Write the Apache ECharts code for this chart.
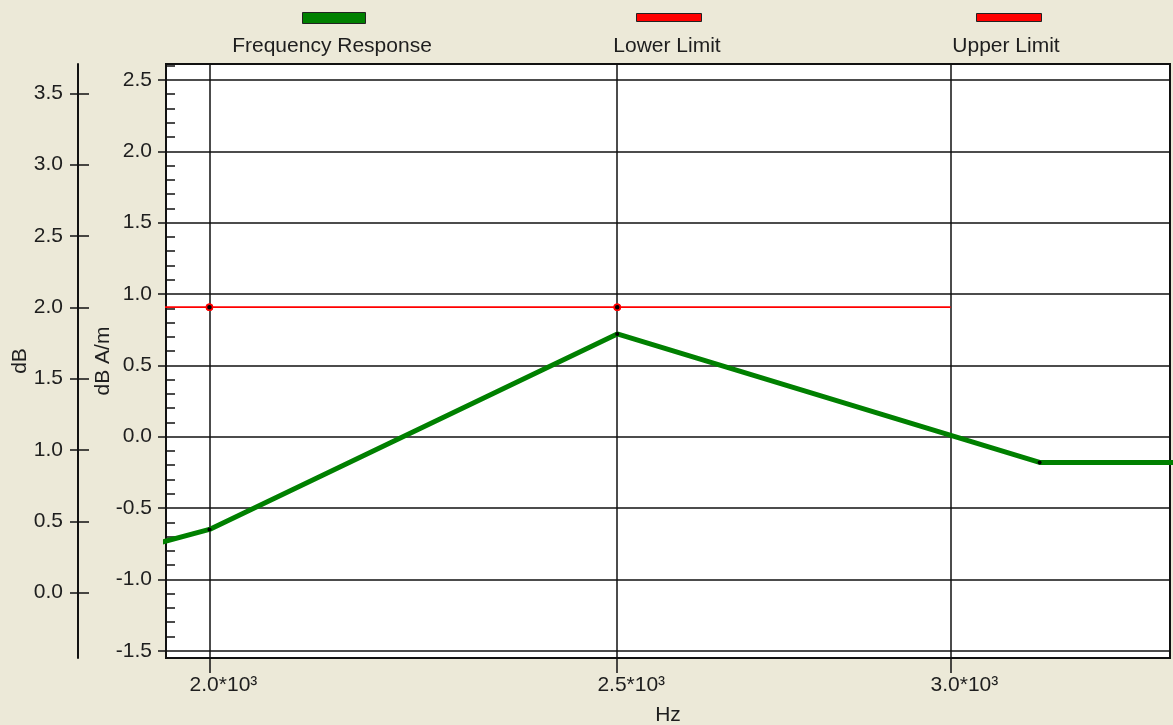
<!DOCTYPE html>
<html>
<head>
<meta charset="utf-8">
<script src="https://cdn.jsdelivr.net/npm/echarts@6/dist/echarts.min.js"></script>
<style>
  html, body { margin: 0; padding: 0; background: #ECE9D8; }
  #chart { width: 1173px; height: 725px; }
</style>
</head>
<body>
<div id="chart"></div>
<script>
// Series
const seriesNames = ['Frequency Response', 'Lower Limit', 'Upper Limit'];
const responseFreq = [1600, 2000, 2500, 3150, 4000];      // Hz
const responseDbAm = [-1.42, -0.65, 0.72, -0.18, -0.18];  // dB A/m
const limitFreq = [1600, 2000, 2500, 3000];               // Hz
const lowerLimitDb = [2.0, 2.0, 2.0, 2.0];                // dB
const upperLimitDb = [2.0, 2.0, 2.0, 2.0];                // dB
const limitMarked = [false, true, true, false];           // points drawn with a marker

// Axes
const freqTicks = [2000, 2500, 3000];
const dbAmTicks = [-1.5, -1.0, -0.5, 0.0, 0.5, 1.0, 1.5, 2.0, 2.5];
const dbTicks = [0.0, 0.5, 1.0, 1.5, 2.0, 2.5, 3.0, 3.5];
const freqRange = [1953, 3383];
const dbAmRange = [-1.551, 2.612];
const dbRange = [-0.458, 3.705];

const FONT = 'Liberation Sans';
const TEXT = '#1e1e1e';
const INK = '#111';

const chart = echarts.init(document.getElementById('chart'), null, { renderer: 'canvas' });

const limitData = (vals) => limitFreq.map((f, i) => ({
  value: [f, vals[i]],
  symbol: limitMarked[i] ? 'circle' : 'none'
}));

const legendBase = {
  orient: 'horizontal',
  padding: 0,
  icon: 'rect',
  selectedMode: false,
  formatter: () => ''
};

chart.setOption({
  animation: false,
  backgroundColor: '#ECE9D8',
  textStyle: { fontFamily: FONT, color: TEXT },
  legend: [
    Object.assign({}, legendBase, {
      data: [seriesNames[0]], left: 302, top: 12, itemWidth: 63, itemHeight: 11,
      itemStyle: { color: '#008000', borderColor: '#222', borderWidth: 1 }
    }),
    Object.assign({}, legendBase, {
      data: [seriesNames[1]], left: 636, top: 13, itemWidth: 65, itemHeight: 8,
      itemStyle: { color: '#ff0000', borderColor: '#222', borderWidth: 1 }
    }),
    Object.assign({}, legendBase, {
      data: [seriesNames[2]], left: 976, top: 13, itemWidth: 65, itemHeight: 8,
      itemStyle: { color: '#ff0000', borderColor: '#222', borderWidth: 1 }
    })
  ],
  graphic: seriesNames.map((name, i) => ({
    type: 'text',
    x: [332, 667, 1006][i],
    y: 46,
    style: {
      text: name, fontFamily: FONT, fontSize: 21, fill: TEXT,
      textAlign: 'center', textVerticalAlign: 'middle'
    }
  })),
  grid: {
    left: 166, right: 3, top: 64, bottom: 67,
    containLabel: false,
    outerBoundsMode: 'none',
    show: true, backgroundColor: '#ffffff', borderColor: INK, borderWidth: 2
  },
  xAxis: {
    type: 'log',
    logBase: 10,
    min: freqRange[0],
    max: freqRange[1],
    name: 'Hz',
    nameLocation: 'middle',
    nameGap: 47,
    nameTextStyle: { fontSize: 21, color: TEXT, fontFamily: FONT },
    axisLine: { show: true, onZero: false, lineStyle: { color: INK, width: 2 } },
    axisTick: { show: true, inside: false, length: 15, customValues: freqTicks, lineStyle: { color: INK, width: 1.5 } },
    axisLabel: {
      customValues: freqTicks,
      fontSize: 21, color: TEXT, fontFamily: FONT, margin: 17,
      padding: [0, 0, 0, 28],
      formatter: (v) => (v / 1000).toFixed(1) + '*10³'
    },
    splitLine: { show: true, lineStyle: { color: INK, width: 1.5 } },
    minorTick: { show: false },
    minorSplitLine: { show: false }
  },
  yAxis: [
    {
      // dB A/m, on the plot edge
      type: 'value',
      position: 'left',
      offset: 0,
      min: dbAmRange[0],
      max: dbAmRange[1],
      splitNumber: 8,
      name: 'dB A/m',
      nameLocation: 'middle',
      nameRotate: 90,
      nameGap: 52,
      nameMoveOverlap: false,
      nameTextStyle: { fontSize: 21, color: TEXT, fontFamily: FONT },
      axisLine: { show: true, onZero: false, lineStyle: { color: INK, width: 2 } },
      axisTick: { show: true, inside: false, length: 8, customValues: dbAmTicks, lineStyle: { color: INK, width: 1.5 } },
      minorTick: { show: true, splitNumber: 5, length: -9, lineStyle: { color: INK, width: 1.5 } },
      axisLabel: {
        customValues: dbAmTicks,
        fontSize: 21, color: TEXT, fontFamily: FONT, margin: 14,
        formatter: (v) => v.toFixed(1)
      },
      splitLine: { show: true, lineStyle: { color: INK, width: 1.5 } }
    },
    {
      // dB, outer scale
      type: 'value',
      position: 'left',
      offset: 88,
      min: dbRange[0],
      max: dbRange[1],
      splitNumber: 8,
      name: 'dB',
      nameLocation: 'middle',
      nameRotate: 90,
      nameGap: 47,
      nameMoveOverlap: false,
      nameTextStyle: { fontSize: 21, color: TEXT, fontFamily: FONT },
      axisLine: { show: true, onZero: false, lineStyle: { color: INK, width: 2 } },
      axisTick: { show: true, inside: false, length: 8, customValues: dbTicks, lineStyle: { color: INK, width: 1.5 } },
      axisLabel: {
        customValues: dbTicks,
        fontSize: 21, color: TEXT, fontFamily: FONT, margin: 15,
        formatter: (v) => v.toFixed(1)
      },
      splitLine: { show: false }
    },
    {
      // inner half of the crossing ticks on the dB scale
      type: 'value',
      position: 'left',
      offset: 88,
      min: dbRange[0],
      max: dbRange[1],
      splitNumber: 8,
      axisLine: { show: false, onZero: false },
      axisTick: { show: true, inside: true, length: 11, customValues: dbTicks, lineStyle: { color: INK, width: 1.5 } },
      axisLabel: { show: false },
      splitLine: { show: false }
    }
  ],
  series: [
    {
      name: seriesNames[0],
      type: 'line',
      xAxisIndex: 0,
      yAxisIndex: 0,
      data: responseFreq.map((f, i) => [f, responseDbAm[i]]),
      showAllSymbol: true,
      symbol: 'circle',
      symbolSize: 4,
      itemStyle: { color: '#000' },
      lineStyle: { color: '#008000', width: 5 },
      z: 3
    },
    {
      name: seriesNames[1],
      type: 'line',
      xAxisIndex: 0,
      yAxisIndex: 1,
      data: limitData(lowerLimitDb),
      showAllSymbol: true,
      symbolSize: 6,
      itemStyle: { color: '#000', borderColor: '#ff0000', borderWidth: 1.5 },
      lineStyle: { color: '#ff0000', width: 1.5 },
      z: 4
    },
    {
      name: seriesNames[2],
      type: 'line',
      xAxisIndex: 0,
      yAxisIndex: 1,
      data: limitData(upperLimitDb),
      showAllSymbol: true,
      symbolSize: 6,
      itemStyle: { color: '#000', borderColor: '#ff0000', borderWidth: 1.5 },
      lineStyle: { color: '#ff0000', width: 1.5 },
      z: 5
    }
  ]
});
</script>
</body>
</html>
